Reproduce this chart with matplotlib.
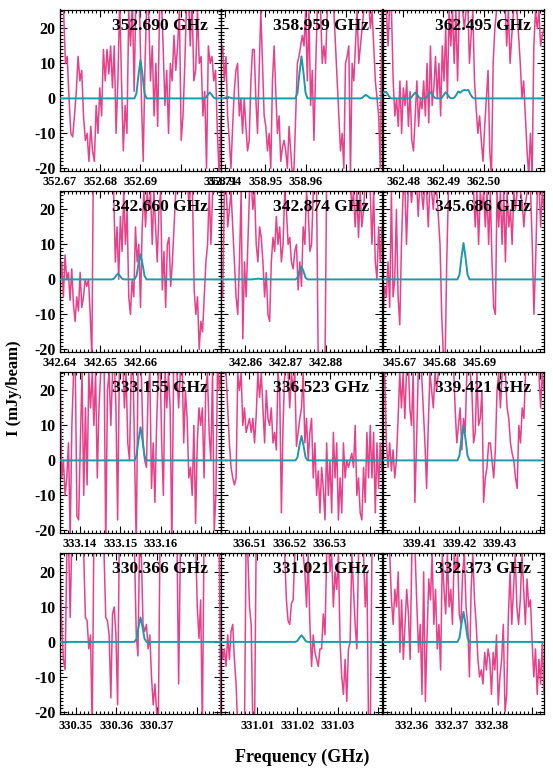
import numpy as np
import matplotlib
matplotlib.use("Agg")
import matplotlib.pyplot as plt
from matplotlib.ticker import MultipleLocator, FuncFormatter

plt.rcParams['font.family'] = ['Liberation Serif', 'DejaVu Serif']
plt.rcParams['font.weight'] = 'bold'
plt.rcParams['axes.unicode_minus'] = False

# line rest frequencies (GHz), one panel each, row by row
line_freqs = [352.690, 358.959, 362.495,
              342.660, 342.874, 345.686,
              333.155, 336.523, 339.421,
              330.366, 331.021, 332.373]
titles = ["352.690 GHz", "358.959 GHz", "362.495 GHz",
          "342.660 GHz", "342.874 GHz", "345.686 GHz",
          "333.155 GHz", "336.523 GHz", "339.421 GHz",
          "330.366 GHz", "331.021 GHz", "332.373 GHz"]
tick_labels = [[352.67, 352.68, 352.69, 352.71], [358.94, 358.95, 358.96], [362.48, 362.49, 362.50],
               [342.64, 342.65, 342.66], [342.86, 342.87, 342.88], [345.67, 345.68, 345.69],
               [333.14, 333.15, 333.16], [336.51, 336.52, 336.53], [339.41, 339.42, 339.43],
               [330.35, 330.36, 330.37], [331.01, 331.02, 331.03], [332.36, 332.37, 332.38]]

# observed spectra (mJy/beam), evenly spaced channels across each panel
obs_1 = [30, 30, 25, 10, 12, 0, -10, -11, -5, 2, 12, 5, 8, -5, -12, -10, -18, -8, -15, -18,
         -2, -10, 3, -5, 14, 5, 14, 7, 15, 3, 15, -10, 5, 28, 5, -15, -2, -10, 25, 15,
         28, 2, 30, 30, 25, 0, -18, 10, 28, 25, 5, 15, -5, 10, -8, 25, 30, 15, -2, 8,
         -10, 10, 5, 18, 8, 15, 25, -12, -5, 10, 28, 30, 15, 28, 5, 8, 25, 10, 12, -5,
         2, -20, 15, 10, 12, 5, 8, -10, -22, -5]
obs_2 = [12, 15, 5, 12, -5, -12, -20, -8, 2, 8, 10, -5, 0, -10, 0, -8, -15, -12, 5, 14,
         14, 0, -10, 8, 25, 10, -5, -8, -15, -10, -20, 5, 15, 2, -10, -5, -18, -14, -12, -15,
         -20, -8, -15, -22, -20, -5, 10, 12, 15, 18, 15, 25, 5, 25, -2, 8, -12, 8, 25,
         28, 25, 10, 15, 10, 25, 28, 25, 28, 25, 15, 5, -5, -15, -10, -20, 10, 12, 15, -22,
         10, 5, 15, 25, 10, 15, 20, 25, 28, 25, 28, 20, 25, 15, 5, 0, -5, -20, 25]
obs_3 = [28, 28, 25, 15, 28, 25, 5, -5, 0, -8, 5, -10, 3, -2, 5, -8, 2, -12, -15, -5,
         5, -8, 0, -3, 5, -5, 10, -7, 15, -2, 3, 12, 0, 10, -5, 15, 5, 20, 0, 25,
         15, 25, 10, 25, 5, 25, 28, 25, 20, 25, 28, 10, 18, 25, 5, -3, -10, -5, -12, -18,
         -8, 0, 8, -15, -22, 10, 20, 25, 28, 25, 28, 25, 28, 15, 25, 10, 18, 25, 28, 25,
         18, 10, 0, 5, -5, -15, -22, -10, -22, 15, 25, 20, 25, 15, 18, 20]
obs_4 = [-2, 5, -5, 7, 0, 2, -6, 3, -7, -12, -5, -9, 2, -8, -5, 0, -2, 0, -10, -22,
         40, 40, 40, 40, 40, 40, 40, 40, 40, 40, 40, 40, 25, 5, 15, 0, 18, 8, 25, 10,
         20, -5, -10, 0, -5, 15, 5, 10, -8, 15, 25, 15, 25, 20, 25, 10, 25, 15, 5, 20,
         25, -3, 8, -8, 10, 12, -2, 5, 15, 25, 28, 25, 28, 25, 28, 25, 28, 20, 28, 25,
         -3, -10, -5, -20, -12, -15, -5, 5, 10, 25, 10, 25, 25, 30, 28, 25, 30]
obs_5 = [0, -5, 25, 28, 15, 20, 25, 15, 5, -5, -10, 5, 25, -17, 5, -5, 10, 25, 28, 20,
         25, 10, 5, 15, 12, 5, -5, 2, -10, -12, 5, 12, 8, 18, 10, 15, 5, 10, 25, 20,
         10, 12, 5, 3, 8, 10, -3, 5, -2, 15, 10, 25, 20, 8, 10, 25, 28, 25, -25, -25,
         -25, -25, -25, 30, 40, 40, 40, 40, 40, 40, 40, 40, 40, 40, 40, 40, 40, 30, 20, 25,
         15, 25, 12, 25, 15, 20, 28, 25, 28, 25, 10, 25, 5, 0, 15, 5, 15]
obs_6 = [-10, -2, -5, 5, -8, 25, -5, 0, 20, -5, -13, 10, 25, 28, 10, 25, 28, 22, 28, 25,
         28, 18, 28, 25, 20, 28, 25, 15, 28, 25, 20, 28, 25, 18, 10, -10, -22, -25, 5, 25,
         30, 35, 30, 35, 30, 35, 25, 30, 25, 30, 30, 28, 25, 28, 25, 15, 25, 10, 25, 20,
         25, 15, 25, 10, 25, 5, -8, -10, 25, 15, 25, 10, 25, 5, 25, 15, 20, 10, 25, 20,
         25, 28, 25, 22, 15, 22, 25, 28, 25, 10, -10, 5, 25, 28, 15, 25, 20]
obs_7 = [30, -5, 0, -10, -5, 5, -22, 10, 25, 28, -16, -17, 5, 25, -10, 15, -7, 25, 15, 25,
         10, 25, -5, 15, 25, 30, 30, -25, 20, 25, 10, 25, 30, 15, -17, 25, 25, 30, 15, 25,
         5, 0, 25, 30, 2, -25, 25, 30, 25, 5, 0, -2, 20, 25, -8, 5, -12, 10, 25, 30,
         5, -10, 25, 15, 25, 15, -25, 25, 30, 25, 15, 25, 30, 5, 20, 12, -5, -2, -10, 10,
         -18, 5, 15, 10, 15, -5, 20, 25, 8, 0, 25, -20, -10, 30, 20, 25]
obs_8 = [25, 28, 27, 25, 15, 5, -2, -5, -7, -5, 25, 20, 25, 10, 15, 8, 10, 12, 8, 12,
         5, 13, 25, 18, 25, 15, 5, 20, 12, 10, 15, 5, 8, 3, 25, 20, -15, 10, 25, 28,
         25, 15, 25, 20, 25, 4, 8, 12, 15, 25, 5, 12, 0, 8, 12, -5, 5, -10, -3, -15,
         -2, -8, -17, 5, -10, 0, -15, 8, -5, 5, -17, -5, -15, 5, -5, 0, -2, 0, 2, -2,
         10, -10, -5, -15, -17, -2, -12, 8, -5, 10, -5, 8, -15, 5, -8, 5, -3]
obs_9 = [25, 25, 5, -2, 5, -3, 3, -5, 0, 12, 25, 15, 25, 12, 25, 30, 15, 10, 25, -12,
         5, 25, 30, 25, 15, 5, -8, 10, 25, 20, 15, 25, 20, 25, 30, 25, 28, 25, 25, 28,
         30, 28, 28, 15, 5, 10, 15, 3, 12, 8, 25, 28, 25, 20, 5, 8, 25, 10, 12, 20,
         -12, -5, -2, 5, 5, 0, -5, 3, 20, 25, 15, 25, 30, 25, 15, 12, 5, 2, 0, -5,
         -8, 10, 5, 15, 12, 25, 30, 28, 25, 28, 30, 28, 28, 25, 15, 25, 20]
obs_10 = [20, 5, -5, -8, 25, 30, 7, 30, 35, 35, 35, 30, 35, 30, 25, 7, 6, -2, 2, -25,
          30, 35, 35, 30, 35, 30, 25, 7, 6, 2, -16, 8, 10, 2, -18, 30, 35, 30, 35, 30,
          35, 30, 35, 30, 25, 2, -4, 30, 25, 5, 3, 5, -2, 2, -10, -18, -12, -20, -25, 30,
          35, 30, 35, 30, 35, 30, 35, 30, 35, 30, -12, 25, 30, 35, 30, 35, 30, 35, 30, 35,
          30, 10, 1, 12, -25, 30, 35, 30, 35, 30, 35, 30, 35, 30, 25, -25]
obs_11 = [0, -5, -2, -7, 2, -5, 3, 5, -5, -12, -25, -25, -25, -25, -25, 30, 25, 10, 5, -25,
          -25, 30, 40, 40, 40, 40, 40, 40, 40, 40,
          30, 35, 30, 35, 30, 35, 30, 30, 25, 12, 6, 5, 11, 12, 25, 30, 35, 30, 35, 25,
          20, 10, 25, 5, -7, 2, -3, -5, -7, -2, -2, 8, 2, 25, 30, 20, 25, 10, 20, 15,
          25, 0, -10, -15, -5, -17, -2, 0, 25, 15, 5, -2, 25, 30, 35, 25, 10, 20, -25, -25,
          25, 30, 35, 30, 35, 30, 35]
obs_12 = [25, 30, 32, 30, 25, 12, 5, 15, 10, 20, -3, 12, -5, 5, 15, 8, -5, 25, 30, 25,
          10, -3, 5, -15, 20, -17, 2, 18, 12, 25, 5, 15, -2, 5, -8, 25, 15, 8, 25, 10,
          15, 5, 25, 20, 25, 8, 5, 20, 25, 10, 5, -10, 15, 25, 12, 5, -5, -10, -8, -12,
          -3, -8, -2, -5, -15, -3, -8, 2, -18, -10, -5, 5, -20, -15, 8, 20, 5, 15, 25, 10,
          5, 12, 25, 15, 5, 18, 10, 12, 0, -10, -2, -15, -5, -12, 0, -15]
observed = [obs_1, obs_2, obs_3, obs_4, obs_5, obs_6,
            obs_7, obs_8, obs_9, obs_10, obs_11, obs_12]

# model spectra: offset from line frequency (MHz) and intensity (mJy/beam)
mod_dx_1 = [-20, -1.5, -1.0, -0.5, 0, 0.5, 1.0, 1.5, 15.7, 16.2, 16.7, 17.2, 17.7, 18.2, 18.7, 20]
mod_y_1 = [0, 0, 1.5, 6.7, 11, 6.7, 1.5, 0, 0, 0.2, 1.0, 1.7, 1.0, 0.2, 0, 0]
mod_dx_2 = [-20, -19.8, -19.3, -18.8, -18.3, -17.8, -17.3, -16.8, -1.5, -1.0, -0.5, 0, 0.5, 1.0, 1.5,
            14.5, 15.0, 15.5, 16.0, 16.5, 17.0, 17.5, 20]
mod_y_2 = [0, 0, 0.05, 0.25, 0.4, 0.25, 0.05, 0, 0, 1.6, 7.3, 12, 7.3, 1.6, 0,
           0, 0.1, 0.6, 1.0, 0.6, 0.1, 0, 0]
mod_dx_3 = [-20, -19.5, -19.0, -18.5, -18.0, -13.5, -13.0, -12.5, -12.0, -11.5, -11.0, -10.5,
            -9.7, -9.2, -8.7, -8.2, -7.7, -7.2, -6.7, -5.9, -5.4, -4.9, -4.4, -3.9, -3.4, -2.9,
            -2.3, -1.8, -1.3, -0.8, -0.3, 0.2, 0.7, 1.2, 1.7, 2.2, 2.7, 20]
mod_y_3 = [1.6, 1.9, 1.5, 0.6, 0, 0, 0.2, 1.0, 1.7, 1.0, 0.2, 0,
           0, 0.2, 1.0, 1.8, 1.0, 0.2, 0, 0, 0.2, 1.0, 1.8, 1.0, 0.2, 0,
           0.2, 1.0, 2.0, 1.6, 2.2, 2.4, 2.3, 2.4, 1.2, 0.3, 0, 0]
mod_dx_4 = [-20, -7.1, -6.6, -6.1, -5.6, -5.1, -4.6, -4.1, -1.5, -1.0, -0.5, 0, 0.5, 1.0, 1.5, 20]
mod_y_4 = [0, 0, 0.2, 1.0, 1.7, 1.0, 0.2, 0, 0, 1.0, 4.4, 7.2, 4.4, 1.0, 0, 0]
mod_dx_5 = [-20, -12.3, -11.3, -10.8, -10.3, -9.3, -1.5, -1.0, -0.5, 0, 0.5, 1.0, 1.5, 20]
mod_y_5 = [0, 0, 0.15, 0.2, 0.15, 0, 0, 0.5, 2.3, 3.7, 2.3, 0.5, 0, 0]
mod_dx_s = [-20, -1.5, -1.0, -0.5, 0, 0.5, 1.0, 1.5, 20]
mod_y_6 = [0, 0, 1.4, 6.3, 10.4, 6.3, 1.4, 0, 0]
mod_y_7 = [0, 0, 1.3, 5.8, 9.5, 5.8, 1.3, 0, 0]
mod_y_8 = [0, 0, 0.9, 4.3, 7.0, 4.3, 0.9, 0, 0]
mod_y_9 = [0, 0, 1.4, 6.1, 10.0, 6.1, 1.4, 0, 0]
mod_y_10 = [0, 0, 0.9, 4.3, 7.0, 4.3, 0.9, 0, 0]
mod_y_11 = [0, 0, 0.3, 1.2, 1.9, 1.2, 0.3, 0, 0]
mod_y_12 = [0, 0, 1.2, 5.2, 8.6, 5.2, 1.2, 0, 0]
models = [(mod_dx_1, mod_y_1), (mod_dx_2, mod_y_2), (mod_dx_3, mod_y_3),
          (mod_dx_4, mod_y_4), (mod_dx_5, mod_y_5), (mod_dx_s, mod_y_6),
          (mod_dx_s, mod_y_7), (mod_dx_s, mod_y_8), (mod_dx_s, mod_y_9),
          (mod_dx_s, mod_y_10), (mod_dx_s, mod_y_11), (mod_dx_s, mod_y_12)]

pink = '#E8418A'
teal = '#1E98AD'

W, H = 553, 775
fig = plt.figure(figsize=(W / 100, H / 100), dpi=100)

col_left = [60, 221, 383]
row_top = [9.5, 190.5, 371.5, 553]
pw, ph = 161, 161
half = 0.02

for k in range(12):
    r, c = divmod(k, 3)
    ax = fig.add_axes([col_left[c] / W, 1 - (row_top[r] + ph) / H, pw / W, ph / H])
    f0 = line_freqs[k]
    y = observed[k]
    x = np.linspace(f0 - half, f0 + half, len(y))
    ax.plot(x, y, color=pink, lw=1.1, zorder=2)
    dx, my = models[k]
    ax.plot(f0 + np.array(dx) / 1000.0, my, color=teal, lw=1.4, zorder=3)
    ax.set_xlim(f0 - half, f0 + half + 1e-9)
    ax.set_ylim(-20.6, 25.4)

    labs = tick_labels[k]
    ax.xaxis.set_major_locator(MultipleLocator(0.01))
    ax.xaxis.set_minor_locator(MultipleLocator(0.001))
    ax.xaxis.set_major_formatter(FuncFormatter(
        lambda v, p, labs=labs: f"{v:.2f}" if any(abs(v - t) < 1e-6 for t in labs) else ""))
    ax.yaxis.set_major_locator(MultipleLocator(10))
    ax.yaxis.set_minor_locator(MultipleLocator(1))
    ax.tick_params(which='both', direction='in', top=True, right=True, width=0.8)
    ax.tick_params(which='major', length=5)
    ax.tick_params(which='minor', length=2.5)
    ax.tick_params(axis='x', labelsize=9, pad=4)
    ax.tick_params(axis='y', labelsize=11.5, pad=3)
    if c != 0:
        ax.set_yticklabels([])
    for s in ax.spines.values():
        s.set_linewidth(0.9)

    ax.text(0.92, 0.90, titles[k], transform=ax.transAxes, ha='right', va='center',
            fontsize=12.5, fontweight='bold', zorder=5)

fig.text(14 / W, 1 - 388 / H, "I (mJy/beam)", rotation=90, ha='center', va='center',
         fontsize=12, fontweight='bold')
fig.text(302 / W, 1 - 757 / H, "Frequency (GHz)", ha='center', va='center',
         fontsize=13, fontweight='bold')

fig.savefig('out.png', dpi=100)
